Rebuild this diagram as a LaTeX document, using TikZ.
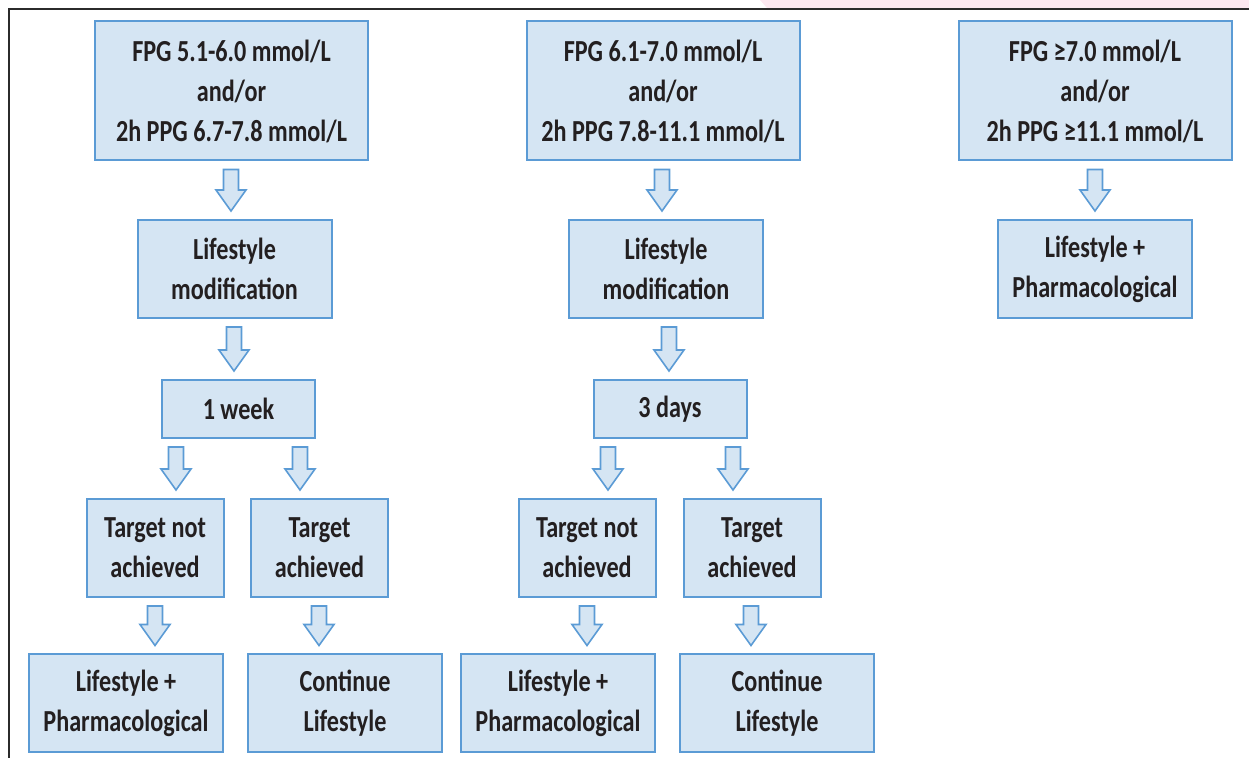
\documentclass[tikz,border=0pt]{standalone}
\usepackage{fontspec}
\setmainfont{Carlito}[FakeStretch=0.79]
\usepackage{tikz}
\usetikzlibrary{positioning, calc}
\definecolor{boxfill}{HTML}{D5E5F3}
\definecolor{boxline}{HTML}{5B9BD5}
\definecolor{framegray}{HTML}{2B2B2B}
\definecolor{cornerpink}{HTML}{FCE8F0}
\definecolor{inkdark}{HTML}{231F20}

% block arrow at x = #1 from node #2 down to node #3
\newcommand{\flowarrow}[3]{%
  \coordinate (ta) at (#1,0 |- #2.south);
  \coordinate (tb) at (#1,0 |- #3.north);
  \draw[arrowbox] ($(ta)+(-7.5,8)$) -- ($(ta)+(7.5,8)$) -- ($(tb)+(7.5,-29)$)
    -- ($(tb)+(15,-29)$) -- ($(tb)+(0,-8)$) -- ($(tb)+(-15,-29)$)
    -- ($(tb)+(-7.5,-29)$) -- cycle;
}

\begin{document}
\begin{tikzpicture}[x=0.5pt, y=-0.5pt,
  box/.style={draw=boxline, fill=boxfill, line width=1pt, inner sep=0pt,
    align=center, text=inkdark, font=\fontsize{15.3}{20}\selectfont\bfseries},
  wide/.style={box, minimum width=136.5pt, minimum height=69.5pt},
  mid/.style={box, minimum width=97pt, minimum height=49pt},
  small/.style={box, minimum width=68.5pt, minimum height=49pt},
  slim/.style={box, minimum width=76.5pt, minimum height=29pt},
  arrowbox/.style={draw=boxline, fill=boxfill, line width=0.8pt, line join=miter}]
\useasboundingbox (0,0) rectangle (1249,758);
% frame
\fill[cornerpink] (760,0) -- (1249,0) -- (1249,8) -- (767,8) -- cycle;
\draw[framegray, line width=1.3pt] (8,9) -- (1249,9);
\draw[framegray, line width=1.3pt] (9,9) -- (9,758);
% first column
\node[wide] (top1) at (231.5,91) {FPG 5.1-6.0 mmol/L\\and/or\\2h PPG 6.7-7.8 mmol/L};
\node[mid] (life1) at (234.5,269) {Lifestyle\\modification};
\node[slim] (week) at (238.5,409) {1 week};
\node[small] (miss1) at (155,548) {Target not\\achieved};
\node[small] (hit1) at (319.5,548) {Target\\achieved};
\node[mid] (pharm1) at (126,703.5) {Lifestyle +\\Pharmacological};
\node[mid] (cont1) at (345,703.5) {Continue\\Lifestyle};
% second column
\node[wide] (top2) at (663,91) {FPG 6.1-7.0 mmol/L\\and/or\\2h PPG 7.8-11.1 mmol/L};
\node[mid] (life2) at (666,269) {Lifestyle\\modification};
\node[slim] (days) at (670,409) {3 days};
\node[small] (miss2) at (587,548) {Target not\\achieved};
\node[small] (hit2) at (752,548) {Target\\achieved};
\node[mid] (pharm2) at (558,703.5) {Lifestyle +\\Pharmacological};
\node[mid] (cont2) at (777,703.5) {Continue\\Lifestyle};
% third column
\node[wide] (top3) at (1095,91) {FPG ≥7.0 mmol/L\\and/or\\2h PPG ≥11.1 mmol/L};
\node[mid] (pharm3) at (1095,269) {Lifestyle +\\Pharmacological};
% arrows
\flowarrow{231}{top1}{life1}
\flowarrow{234}{life1}{week}
\flowarrow{176}{week}{miss1}
\flowarrow{300}{week}{hit1}
\flowarrow{155}{miss1}{pharm1}
\flowarrow{319}{hit1}{cont1}
\flowarrow{662}{top2}{life2}
\flowarrow{669}{life2}{days}
\flowarrow{608}{days}{miss2}
\flowarrow{733}{days}{hit2}
\flowarrow{587}{miss2}{pharm2}
\flowarrow{751}{hit2}{cont2}
\flowarrow{1095}{top3}{pharm3}
\end{tikzpicture}
\end{document}
